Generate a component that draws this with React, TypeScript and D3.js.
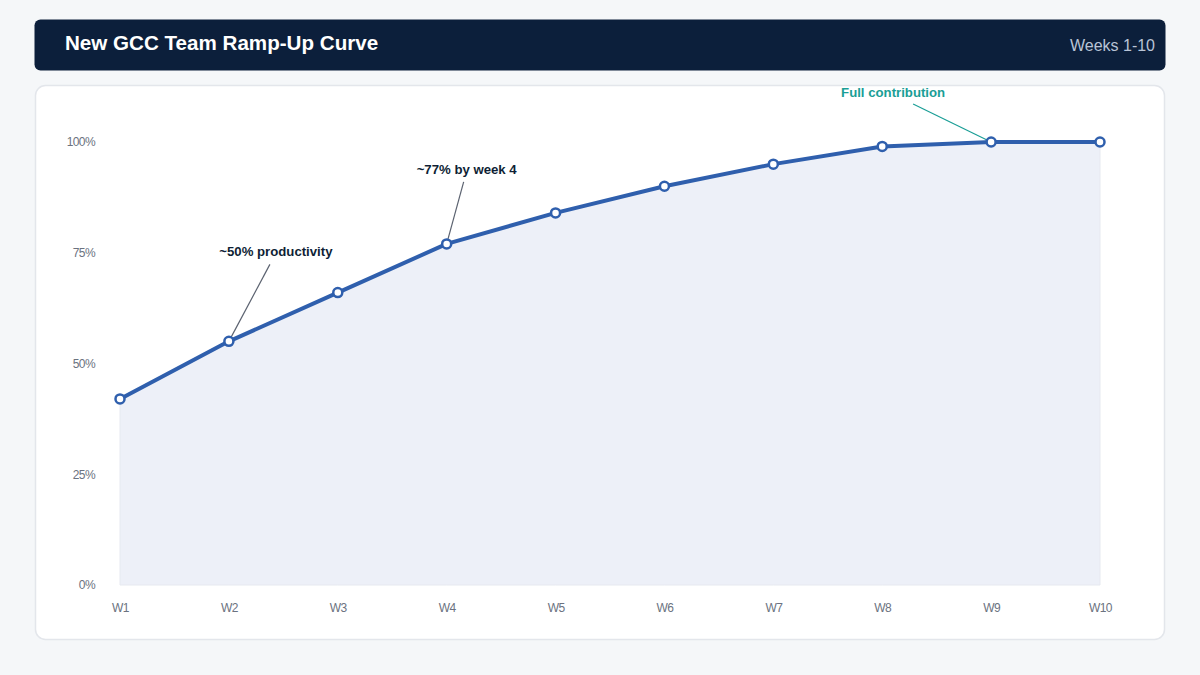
import { useEffect, useRef } from 'react';
import * as d3 from 'd3';

const weeks = ['W1', 'W2', 'W3', 'W4', 'W5', 'W6', 'W7', 'W8', 'W9', 'W10'];
const productivity = [42, 55, 66, 77, 84, 90, 95, 99, 100, 100];
const yTicks = [0, 25, 50, 75, 100];

// text offset (dx, dy) and leader line start offset (lx, ly), relative to the point
const notes = [
  { week: 'W2', text: '~50% productivity', dx: 47, dy: -85, lx: 41, ly: -77, color: '#0f1f36', lineColor: '#5b6270' },
  { week: 'W4', text: '~77% by week 4', dx: 20, dy: -70, lx: 17, ly: -62, color: '#0f1f36', lineColor: '#5b6270' },
  { week: 'W9', text: 'Full contribution', dx: -98, dy: -45, lx: -78, ly: -38, color: '#1a9e96', lineColor: '#1a9e96' },
];

function App() {
  const svgRef = useRef<SVGSVGElement | null>(null);
  const width = 1200;
  const height = 675;

  useEffect(() => {
    const svg = d3.select(svgRef.current).attr('viewBox', `0,0,${width},${height}`);
    svg.selectAll('*').remove();
    const font = '"Liberation Sans", Arial, sans-serif';

    svg.append('rect').attr('width', width).attr('height', height).attr('fill', '#f5f7f9');

    // header
    svg.append('rect').attr('x', 34.5).attr('y', 19.5).attr('width', 1131).attr('height', 51)
      .attr('rx', 6).attr('fill', '#0c1f3b');
    svg.append('text').attr('x', 65).attr('y', 50).attr('fill', '#ffffff')
      .attr('font-family', font).attr('font-size', 20.6).attr('font-weight', 700)
      .text('New GCC Team Ramp-Up Curve');
    svg.append('text').attr('x', 1155).attr('y', 51).attr('text-anchor', 'end').attr('fill', '#b9c4d6')
      .attr('font-family', font).attr('font-size', 16).text('Weeks 1-10');

    // card
    svg.append('rect').attr('x', 35.5).attr('y', 85.5).attr('width', 1129).attr('height', 554)
      .attr('rx', 10).attr('fill', '#ffffff').attr('stroke', '#e3e6eb').attr('stroke-width', 1.5);

    const x = d3.scalePoint<string>().domain(weeks).range([120, 1100]);
    const y = d3.scaleLinear().domain([0, 100]).range([585, 142]);

    const data = weeks.map((w, i) => ({ w, v: productivity[i] }));

    const yAxis = svg.append('g').attr('transform', 'translate(95,0)')
      .call(d3.axisLeft(y).tickValues(yTicks).tickSize(0).tickPadding(0).tickFormat((d) => `${d}%`));
    yAxis.select('.domain').remove();
    yAxis.selectAll('text').attr('font-family', font).attr('font-size', 12).attr('fill', '#6b7280')
      .attr('letter-spacing', '-0.6px');

    const xAxis = svg.append('g').attr('transform', 'translate(0,603)')
      .call(d3.axisBottom(x).tickSize(0).tickPadding(0));
    xAxis.select('.domain').remove();
    xAxis.selectAll('text').attr('font-family', font).attr('font-size', 12).attr('fill', '#6b7280')
      .attr('letter-spacing', '-0.6px');

    const area = d3.area<{ w: string; v: number }>()
      .x((d) => x(d.w) as number).y0(y(0)).y1((d) => y(d.v));
    svg.append('path').datum(data).attr('d', area).attr('fill', '#edf0f8')
      .attr('stroke', '#e6e9f0').attr('stroke-width', 1);

    notes.forEach((n) => {
      const px = x(n.week) as number;
      const py = y(productivity[weeks.indexOf(n.week)]);
      svg.append('line').attr('x1', px + n.lx).attr('y1', py + n.ly)
        .attr('x2', px).attr('y2', py).attr('stroke', n.lineColor).attr('stroke-width', 1.2);
      svg.append('text').attr('x', px + n.dx).attr('y', py + n.dy).attr('text-anchor', 'middle')
        .attr('fill', n.color).attr('font-family', font).attr('font-size', 13.2).attr('font-weight', 700)
        .text(n.text);
    });

    const line = d3.line<{ w: string; v: number }>().x((d) => x(d.w) as number).y((d) => y(d.v));
    svg.append('path').datum(data).attr('d', line).attr('fill', 'none')
      .attr('stroke', '#2f5fad').attr('stroke-width', 4).attr('stroke-linejoin', 'round');

    svg.append('g').selectAll('circle').data(data).enter().append('circle')
      .attr('cx', (d) => x(d.w) as number).attr('cy', (d) => y(d.v)).attr('r', 4.5)
      .attr('fill', '#ffffff').attr('stroke', '#2f5fad').attr('stroke-width', 2.5);
  }, []);

  return (
    <div style={{ position: 'absolute', left: 0, top: 0, width, height }}>
      <svg ref={svgRef} width={width} height={height} style={{ display: 'block' }} />
    </div>
  );
}

export default App;
